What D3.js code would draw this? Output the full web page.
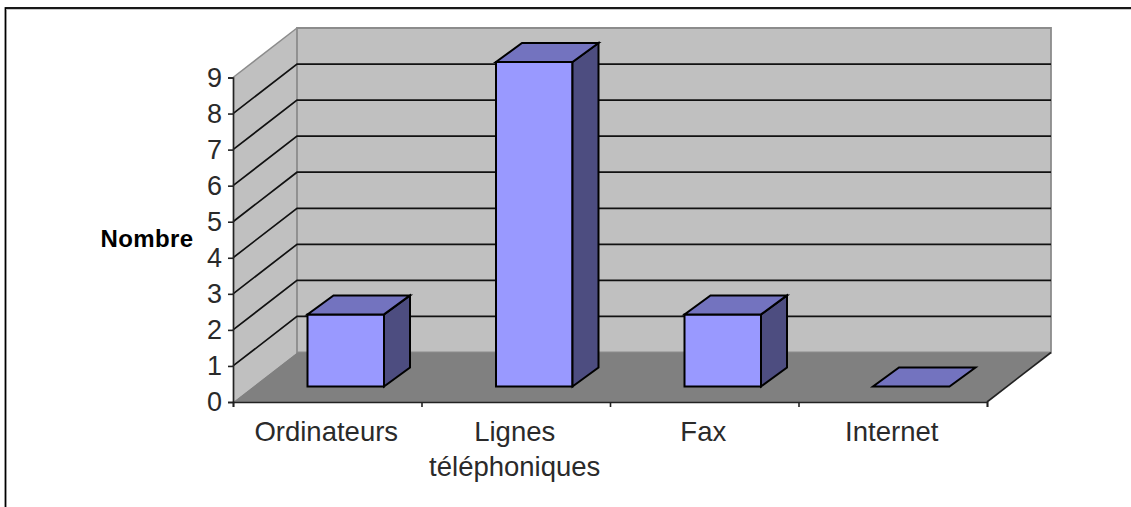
<!DOCTYPE html>
<html>
<head>
<meta charset="utf-8">
<script src="https://cdn.jsdelivr.net/npm/d3@7"></script>
<style>
  html, body { margin: 0; padding: 0; background: #fff; overflow: hidden; }
  text { font-family: "Liberation Sans", Arial, sans-serif; fill: #2a2a2a; }
</style>
</head>
<body>
<div id="chart"></div>
<script>
var categories = ["Ordinateurs", "Lignes|téléphoniques", "Fax", "Internet"];
var values = [2, 9, 2, 0];
var yTicks = [0, 1, 2, 3, 4, 5, 6, 7, 8, 9];
var edgeTicks = [0, 1, 2, 3, 4];
var yTitle = "Nombre";

var svgWidth = 1131;
var svgHeight = 507;

// front plane of the 3d box, depth goes up and right
var left = 233, right = 987, bottom = 402, top9 = 77.5;
var depthX = 64, depthY = 49.5;
// bars sit partway into the depth
var barShiftX = 20, barShiftY = 15.5, barDepthX = 26, barDepthY = 19;

var svg = d3.select("#chart")
  .append("svg")
  .attr("width", svgWidth)
  .attr("height", svgHeight)
  .style("display", "block");

var yScale = d3.scaleLinear().domain([0, 9]).range([bottom, top9]);
var xBand = d3.scaleBand().domain(categories).range([left, right]);
var xEdge = d3.scaleLinear().domain([0, 4]).range([left, right]);

function poly(points, fill, stroke, width) {
  return svg.append("polygon")
    .attr("points", points.map(function(p) { return p.join(","); }).join(" "))
    .attr("fill", fill)
    .attr("stroke", stroke || "none")
    .attr("stroke-width", width || 0)
    .attr("stroke-linejoin", "miter");
}

// outer frame
svg.append("rect")
  .attr("x", 5.5).attr("y", 8)
  .attr("width", svgWidth + 10).attr("height", svgHeight + 10)
  .attr("fill", "#fff")
  .attr("stroke", "#000")
  .attr("stroke-width", 1.8);
svg.append("line")
  .attr("x1", 6.5).attr("x2", svgWidth).attr("y1", 9.5).attr("y2", 9.5)
  .attr("stroke", "#c8c8c8");

// walls and floor
var yTop = yScale(9), yBot = yScale(0);
poly([[left, yBot], [left + depthX, yBot - depthY], [left + depthX, yTop - depthY], [left, yTop]], "#c0c0c0");
poly([[left + depthX, yBot - depthY], [right + depthX, yBot - depthY], [right + depthX, yTop - depthY], [left + depthX, yTop - depthY]], "#c0c0c0", "#8c8c8c", 1.8);
poly([[left, yBot], [right, yBot], [right + depthX, yBot - depthY], [left + depthX, yBot - depthY]], "#808080");

// grey upper edge of side wall
svg.append("line")
  .attr("x1", left).attr("y1", yTop)
  .attr("x2", left + depthX).attr("y2", yTop - depthY)
  .attr("stroke", "#8c8c8c").attr("stroke-width", 1.5);

// gridlines
var inner = yTicks.filter(function(d) { return d > 0 && d < 9; });
svg.selectAll("polyline.grid")
  .data(inner)
  .enter()
  .append("polyline")
  .attr("class", "grid")
  .attr("fill", "none")
  .attr("stroke", "#111")
  .attr("stroke-width", 1.7)
  .attr("points", function(d) {
    var y = yScale(d);
    return [left, y, left + depthX, y - depthY, right + depthX, y - depthY].join(",");
  });

// floor right edge
svg.append("line")
  .attr("x1", right).attr("y1", yBot)
  .attr("x2", right + depthX).attr("y2", yBot - depthY)
  .attr("stroke", "#222").attr("stroke-width", 1.6);

// bars
categories.forEach(function(c, i) {
  var bw = 76.5;
  var x0 = xBand(c) + xBand.bandwidth() / 2 - bw / 2 + barShiftX - 1.5;
  var x1 = x0 + bw;
  var y0 = yScale(0) - barShiftY;
  var yv = yScale(values[i]) - barShiftY;
  var s = "#000";
  if (values[i] > 0) {
    poly([[x0, y0], [x1, y0], [x1, yv], [x0, yv]], "#9999ff", s, 2);
    poly([[x1, y0], [x1 + barDepthX, y0 - barDepthY], [x1 + barDepthX, yv - barDepthY], [x1, yv]], "#4d4d80", s, 2);
  }
  poly([[x0, yv], [x1, yv], [x1 + barDepthX, yv - barDepthY], [x0 + barDepthX, yv - barDepthY]], "#7373bf", s, 2);
});

// axes
var yAxis = d3.axisLeft(yScale).tickValues(yTicks).tickSize(5).tickPadding(6).tickFormat(d3.format("d"));
var yG = svg.append("g")
  .attr("transform", "translate(" + left + ",0)")
  .call(yAxis);
var xAxis = d3.axisBottom(xEdge).tickValues(edgeTicks).tickSize(5).tickFormat("");
var xG = svg.append("g")
  .attr("transform", "translate(0," + bottom + ")")
  .call(xAxis);
[yG, xG].forEach(function(g) {
  g.selectAll("path").attr("stroke", "#222").attr("stroke-width", 1.7);
  g.selectAll("line").attr("stroke", "#222").attr("stroke-width", 1.6);
});
yG.selectAll("text")
  .style("font-family", '"Liberation Sans", Arial, sans-serif')
  .attr("font-size", 27)
  .attr("fill", "#2a2a2a");

// category labels
categories.forEach(function(c) {
  var parts = c.split("|");
  var cx = xBand(c) + xBand.bandwidth() / 2 - 1;
  parts.forEach(function(p, j) {
    svg.append("text")
      .attr("x", cx)
      .attr("y", 441 + j * 35)
      .attr("text-anchor", "middle")
      .attr("font-size", 27.5)
      .text(p);
  });
});

svg.append("text")
  .attr("x", 147)
  .attr("y", 247)
  .attr("text-anchor", "middle")
  .attr("font-size", 24)
  .attr("font-weight", "bold")
  .attr("letter-spacing", 0.4)
  .style("fill", "#000")
  .text(yTitle);
</script>
</body>
</html>
